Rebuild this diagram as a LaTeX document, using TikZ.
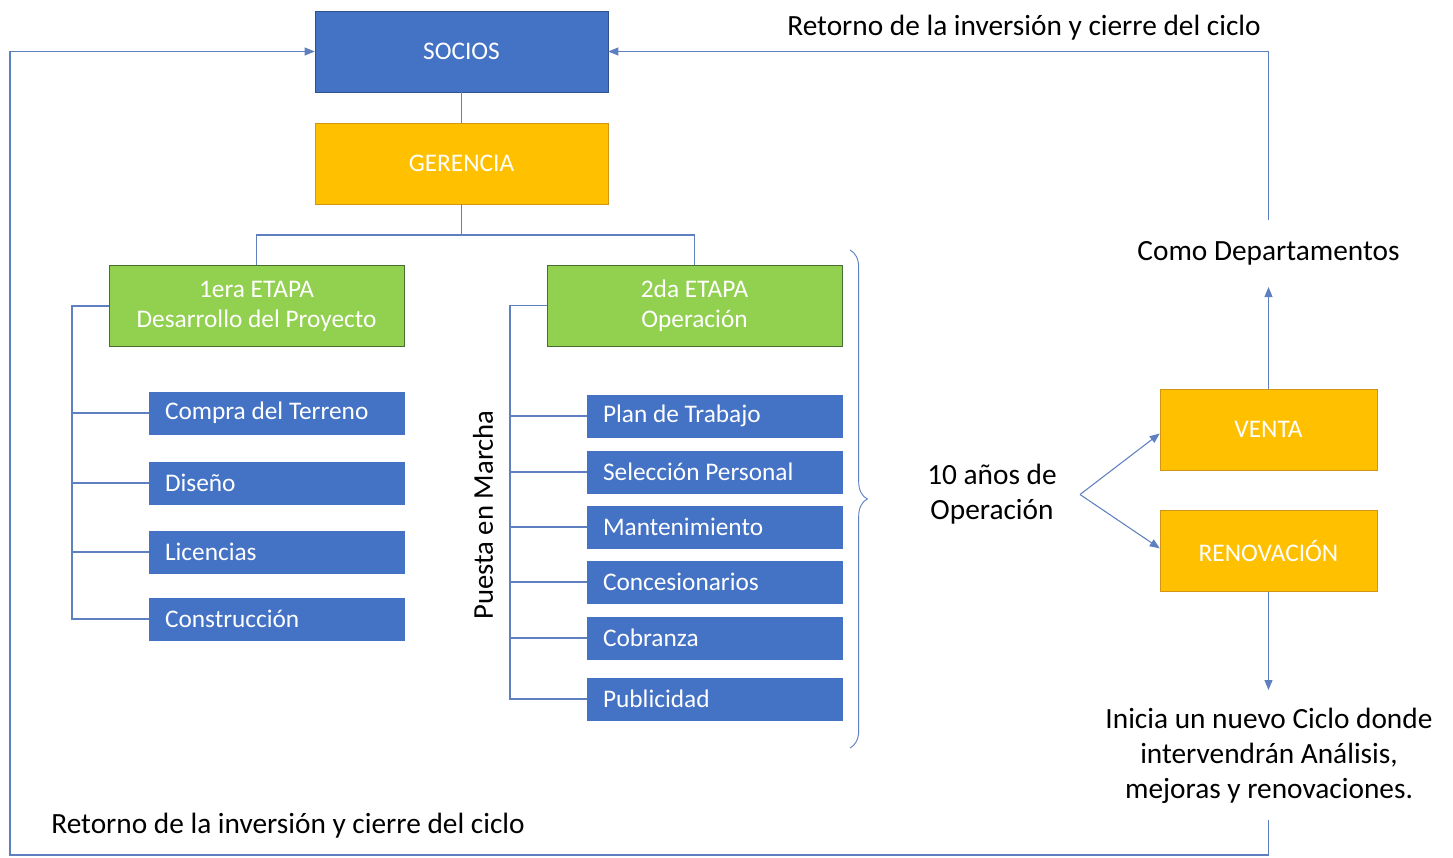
\documentclass[tikz,border=0pt]{standalone}
\usepackage{fontspec}
\setmainfont{Carlito}
\usetikzlibrary{arrows.meta,decorations.pathreplacing}

\definecolor{boxblue}{RGB}{68,114,196}
\definecolor{boxblueline}{RGB}{47,82,143}
\definecolor{boxgold}{RGB}{255,192,0}
\definecolor{boxgoldline}{RGB}{210,150,20}
\definecolor{boxgreen}{RGB}{146,208,80}
\definecolor{boxgreenline}{RGB}{70,110,50}
\definecolor{linkblue}{RGB}{95,128,192}

\tikzset{
  link/.style={draw=linkblue,line width=0.8pt},
  arrow/.style={link,-{Triangle[length=7.5pt,width=6pt]}},
  boxtext/.style={text=white,font=\fontsize{19}{22.5}\selectfont,inner sep=0pt,align=center},
  headbox/.style={boxtext,fill=boxblue,draw=boxblueline,minimum width=219.75pt,minimum height=60.75pt},
  stagebox/.style={boxtext,fill=boxgreen,draw=boxgreenline,minimum width=221.25pt,minimum height=60.75pt},
  taskbox/.style={boxtext,fill=boxblue,draw=boxblue,align=flush left,inner xsep=12pt,text width=167.25pt,minimum height=31.5pt},
  endbox/.style={boxtext,fill=boxgold,draw=boxgoldline,minimum width=162.75pt,minimum height=60.75pt},
  note/.style={font=\fontsize{22}{26.25}\selectfont,inner sep=0pt,align=center}
}

\begin{document}
\begin{tikzpicture}[x=0.75pt,y=0.75pt,yscale=-1,xscale=1]
        \useasboundingbox (0,0) rectangle (1453,857);

        %Shape: Rectangle [socios, gerencia]
        \node (socios) at (461.5,51.5) [headbox] {SOCIOS};
        \node (gerencia) at (461.5,163.5) [headbox,fill=boxgold,draw=boxgoldline] {GERENCIA};

        %Shape: Rectangle [etapas]
        \node (etapa1) at (256.5,306) [stagebox] {1era ETAPA\\Desarrollo del Proyecto};
        \node (etapa2) at (694.5,305.5) [stagebox] {2da ETAPA\\Operación};

        %Shape: Rectangle [1era etapa tasks]
        \node (compra) at (276.5,413) [taskbox] {Compra del Terreno};
        \node (diseno) at (276.5,483) [taskbox] {Diseño};
        \node (licencias) at (276.5,552) [taskbox] {Licencias};
        \node (constr) at (276.5,619) [taskbox] {Construcción};

        %Shape: Rectangle [2da etapa tasks]
        \node (plan) at (714.5,416) [taskbox] {Plan de Trabajo};
        \node (seleccion) at (714.5,472) [taskbox] {Selección Personal};
        \node (manten) at (714.5,527) [taskbox] {Mantenimiento};
        \node (concesion) at (714.5,582) [taskbox] {Concesionarios};
        \node (cobranza) at (714.5,638) [taskbox] {Cobranza};
        \node (publi) at (714.5,699) [taskbox] {Publicidad};

        %Shape: Rectangle [venta, renovacion]
        \node (venta) at (1268.5,429.5) [endbox] {VENTA};
        \node (renov) at (1268.5,551) [endbox] {RENOVACIÓN};

        % Text Node
        \node (marcha) at (483,515) [note,rotate=90,font=\fontsize{21.5}{26}\selectfont] {Puesta en Marcha};
        % Text Node
        \node (ops) at (992,494.5) [note] {10 años de\\Operación};
        % Text Node
        \node (depto) at (1268.5,253) [note] {Como Departamentos};
        % Text Node
        \node (ciclo) at (1269,756) [note] {Inicia un nuevo Ciclo donde\\intervendrán Análisis,\\mejoras y renovaciones.};
        % Text Node
        \node (retorno1) at (1024,28) [note] {Retorno de la inversión y cierre del ciclo};
        % Text Node
        \node (retorno2) at (288,826) [note] {Retorno de la inversión y cierre del ciclo};

        %Coordinates
        \coordinate (split) at (461.5,235);
        \coordinate (trunk1) at (72,619);
        \coordinate (trunk2) at (510,699);
        \coordinate (fork) at (1080,494.5);
        \coordinate (deptotip) at (1268.5,287);
        \coordinate (rtop) at (1268.5,220);
        \coordinate (newtip) at (1268.5,690);
        \coordinate (rbot) at (1268.5,820);
        \coordinate (lcorner) at (10,855);

        %Straight Lines [tree]
        \draw [link] (socios) -- (gerencia);
        \draw [link] (gerencia) -- (split) -| (etapa1.north);
        \draw [link] (split) -| (etapa2.north);
        \draw [link] (etapa1.west) -| (trunk1) -- (constr.west);
        \draw [link] (compra.west) -- (compra.west -| trunk1);
        \draw [link] (diseno.west) -- (diseno.west -| trunk1);
        \draw [link] (licencias.west) -- (licencias.west -| trunk1);
        \draw [link] (etapa2.west) -| (trunk2) -- (publi.west);
        \draw [link] (plan.west) -- (plan.west -| trunk2);
        \draw [link] (seleccion.west) -- (seleccion.west -| trunk2);
        \draw [link] (manten.west) -- (manten.west -| trunk2);
        \draw [link] (concesion.west) -- (concesion.west -| trunk2);
        \draw [link] (cobranza.west) -- (cobranza.west -| trunk2);

        %Shape: Brace
        \draw [link,line width=0.7pt,decorate,decoration={brace,amplitude=13pt}] (850,250) -- (850,748);

        %Straight Lines [arrows]
        \draw [arrow] (fork) -- ([yshift=3pt]venta.west);
        \draw [arrow] (fork) -- ([yshift=-2pt]renov.west);
        \draw [arrow] (venta) -- (deptotip);
        \draw [arrow] (renov) -- (newtip);
        \draw [arrow] (rtop) |- (socios.east);
        \draw [arrow] (rbot) -- (rbot |- lcorner) -- (lcorner) |- (socios.west);

        \end{tikzpicture}
\end{document}
